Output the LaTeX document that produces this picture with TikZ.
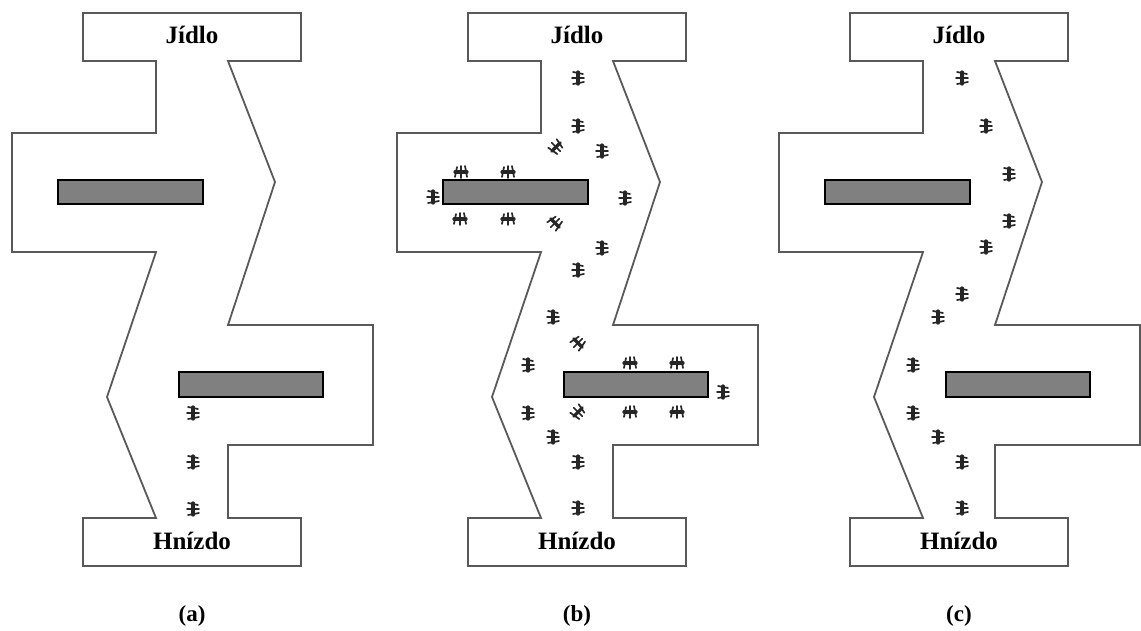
\documentclass[tikz,border=0pt]{standalone}
\usepackage{fontspec}
\setmainfont{Liberation Serif}
\usepackage{tikz}

% a small ant, body along the y axis
\tikzset{
  ant/.pic={
    \draw[line width=3.2pt, line cap=round] (0,-6) -- (0,6);
    \draw[line width=1.7pt, line cap=round] (-5,-6) -- (5,-4) (-6,0) -- (6,0) (-5,6) -- (6,4);
  }
}

\begin{document}
\begin{tikzpicture}[x=1pt, y=-1pt,
    wall/.style={draw=black!65, line width=1.8pt, line join=miter},
    block/.style={draw=black, line width=1.2pt, fill=black!50},
    title/.style={font=\bfseries\fontsize{25}{30}\selectfont, anchor=base},
    caption/.style={font=\bfseries\fontsize{23}{27}\selectfont, anchor=base},
    bug/.style={black!85}]

    \useasboundingbox (0,0) rectangle (1141,630);

    % Three copies of the maze
    \foreach \dx/\p in {0/a, 385/b, 767/c} {
      \begin{scope}[xshift=\dx]
        % Walls
        \draw[wall] (83,13) -- (301,13) -- (301,61) -- (228,61) -- (275,182) -- (228,325)
          -- (373,325) -- (373,445) -- (228,445) -- (228,518) -- (301,518) -- (301,566)
          -- (83,566) -- (83,518) -- (156,518) -- (107,397) -- (156,252) -- (12,252)
          -- (12,133) -- (156,133) -- (156,61) -- (83,61) -- cycle;
        % Obstacles
        \draw[block] (58,180) rectangle (203,204);
        \draw[block] (179,372) rectangle (323,397);
        % Food, nest and caption
        \node[title] (food\p) at (192,43) {Jídlo};
        \node[title] (nest\p) at (192,549) {Hnízdo};
        \node[caption] (cap\p) at (192,621) {(\p)};
      \end{scope}
    }

    % Ants in (a)
    \foreach \x/\y in {193/413, 193/462, 193/509}
      \pic[bug] at (\x,\y) {ant};

    % Ants in (b), going round both obstacles
    \foreach \x/\y/\r in {578/78/0, 578/126/0, 556/147/-45, 602/151/0,
        461/172/90, 508/172/90, 433/197/0, 625/198/0, 460/219/90, 508/219/90,
        555/223/45, 602/248/0, 578/270/0, 553/317/0, 578/343/45, 528/365/0,
        630/363/90, 677/363/90, 723/392/0, 528/413/0, 578/412/-45, 630/412/90,
        677/412/90, 553/437/0, 578/462/0, 578/508/0}
      \pic[bug, rotate=\r] at (\x,\y) {ant};

    % Ants in (c), on the short path
    \foreach \x/\y in {962/78, 986/126, 1009/174, 1009/221, 986/247, 962/294,
        938/317, 913/365, 913/413, 938/437, 962/462, 962/508}
      \pic[bug] at (\x,\y) {ant};

\end{tikzpicture}
\end{document}
